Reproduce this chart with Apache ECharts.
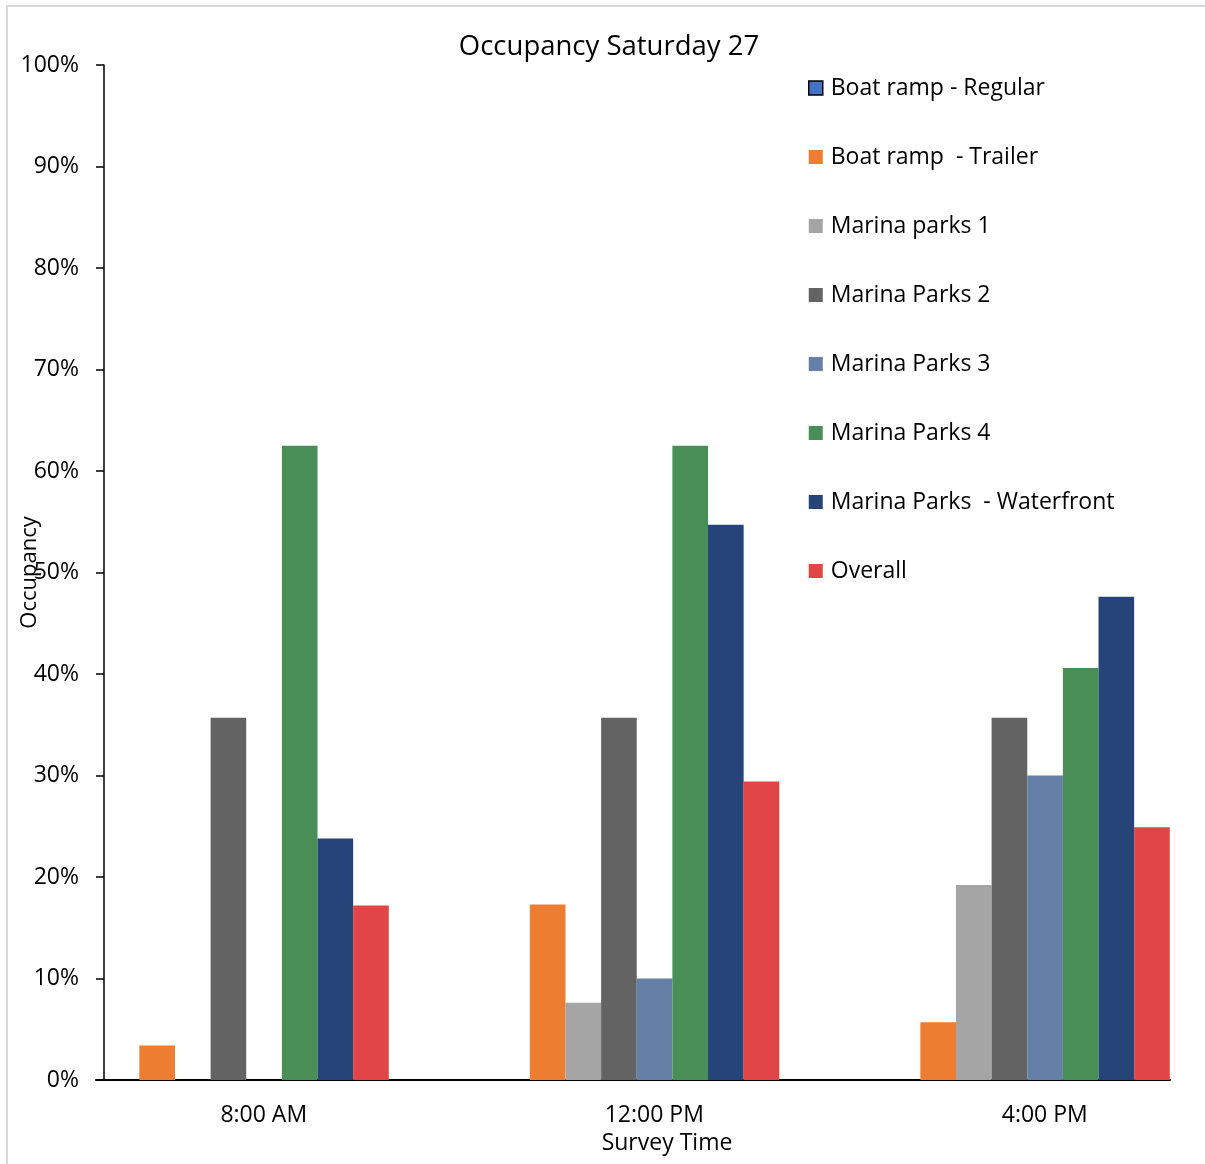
<!DOCTYPE html>
<html>
<head>
<meta charset="utf-8">
<title>Occupancy Saturday 27</title>
<script src="https://cdn.jsdelivr.net/npm/echarts@6/dist/echarts.min.js"></script>
<style>
  html, body { margin: 0; padding: 0; background: #fff; }
  #frame {
    position: absolute; left: 6px; top: 5px; right: 0; bottom: 0;
    border-top: 2px solid #d9d9d9; border-left: 2px solid #d9d9d9;
  }
  #chart { position: absolute; left: 0; top: 0; width: 1205px; height: 1164px; }
</style>
</head>
<body>
<div id="frame"></div>
<div id="chart"></div>
<script>
// Survey times (categories)
const surveyTimes = ['8:00 AM', '12:00 PM', '4:00 PM'];

// Occupancy (%) per car park at each survey time
const boatRampRegular   = [0, 0, 0];
const boatRampTrailer   = [3.4, 17.3, 5.7];
const marinaParks1      = [0, 7.6, 19.2];
const marinaParks2      = [35.7, 35.7, 35.7];
const marinaParks3      = [0, 10.0, 30.0];
const marinaParks4      = [62.5, 62.5, 40.6];
const marinaWaterfront  = [23.8, 54.7, 47.6];
const overall           = [17.2, 29.4, 24.9];

// Y axis ticks
const yTicks = { min: 0, max: 100, interval: 10 };

const FONT = '"Open Sans", Lato, sans-serif';

const seriesDefs = [
  { name: 'Boat ramp - Regular',        data: boatRampRegular,  color: '#4472C4' },
  { name: 'Boat ramp  - Trailer',       data: boatRampTrailer,  color: '#ED7D31' },
  { name: 'Marina parks 1',             data: marinaParks1,     color: '#A5A5A5' },
  { name: 'Marina Parks 2',             data: marinaParks2,     color: '#636363' },
  { name: 'Marina Parks 3',             data: marinaParks3,     color: '#6480A6' },
  { name: 'Marina Parks 4',             data: marinaParks4,     color: '#4A8E57' },
  { name: 'Marina Parks  - Waterfront', data: marinaWaterfront, color: '#264478' },
  { name: 'Overall',                    data: overall,          color: '#E24545' }
];

const chart = echarts.init(document.getElementById('chart'), null, { renderer: 'canvas' });

chart.setOption({
  backgroundColor: 'transparent',
  animation: false,
  title: [
    {
      text: 'Occupancy Saturday 27',
      left: 604, top: 28, textAlign: 'center',
      textStyle: { fontFamily: FONT, fontSize: 27.5, fontWeight: 'normal', color: '#000' }
    },
    {
      text: 'Survey Time',
      left: 662, top: 1127, textAlign: 'center',
      textStyle: { fontFamily: FONT, fontSize: 23, fontWeight: 'normal', color: '#000' }
    }
  ],
  legend: {
    orient: 'vertical',
    left: 803, top: 70,
    itemWidth: 14, itemHeight: 14, itemGap: 43,
    icon: 'rect',
    textStyle: { fontFamily: FONT, fontSize: 23, color: '#000', lineHeight: 26, padding: [0, 0, 0, 3] },
    data: seriesDefs.map((s, i) => i === 0
      ? { name: s.name, itemStyle: { borderColor: '#000', borderWidth: 1.5 } }
      : { name: s.name })
  },
  grid: [
    // bar grid: category bands
    { left: 51, top: 65, width: 1171.5, bottom: 84, outerBoundsMode: 'none', containLabel: false },
    // baseline grid: horizontal axis line
    { left: 96, top: 65, width: 1074, bottom: 84, outerBoundsMode: 'none', containLabel: false }
  ],
  xAxis: [
    {
      type: 'category', gridIndex: 0, data: surveyTimes,
      axisLine: { show: false }, axisTick: { show: false },
      axisLabel: {
        fontFamily: FONT, fontSize: 23, color: '#000', margin: 24,
        padding: [0, 0, 0, 35]
      }
    },
    {
      type: 'value', gridIndex: 1, min: 0, max: 1,
      axisLine: { show: true, lineStyle: { color: '#000', width: 2 } },
      axisTick: { show: false }, axisLabel: { show: false }, splitLine: { show: false }
    }
  ],
  yAxis: [
    {
      type: 'value', gridIndex: 0,
      min: yTicks.min, max: yTicks.max, interval: yTicks.interval,
      offset: -53,
      name: 'Occupancy', nameLocation: 'middle', nameGap: 63, nameMoveOverlap: false,
      nameTextStyle: { fontFamily: FONT, fontSize: 22, color: '#000' },
      axisLine: { show: true, lineStyle: { color: '#000', width: 1.5 } },
      axisTick: { show: true, inside: false, length: 8, lineStyle: { color: '#000', width: 1.5 } },
      splitLine: { show: false },
      axisLabel: {
        fontFamily: FONT, fontSize: 23, color: '#000', margin: 25,
        formatter: '{value}%'
      }
    },
    { type: 'value', gridIndex: 1, show: false, min: 0, max: 1 }
  ],
  series: seriesDefs.map(s => ({
    name: s.name,
    type: 'bar',
    xAxisIndex: 0, yAxisIndex: 0,
    data: s.data,
    barGap: 0,
    barCategoryGap: '27%',
    itemStyle: { color: s.color }
  }))
});
</script>
</body>
</html>
